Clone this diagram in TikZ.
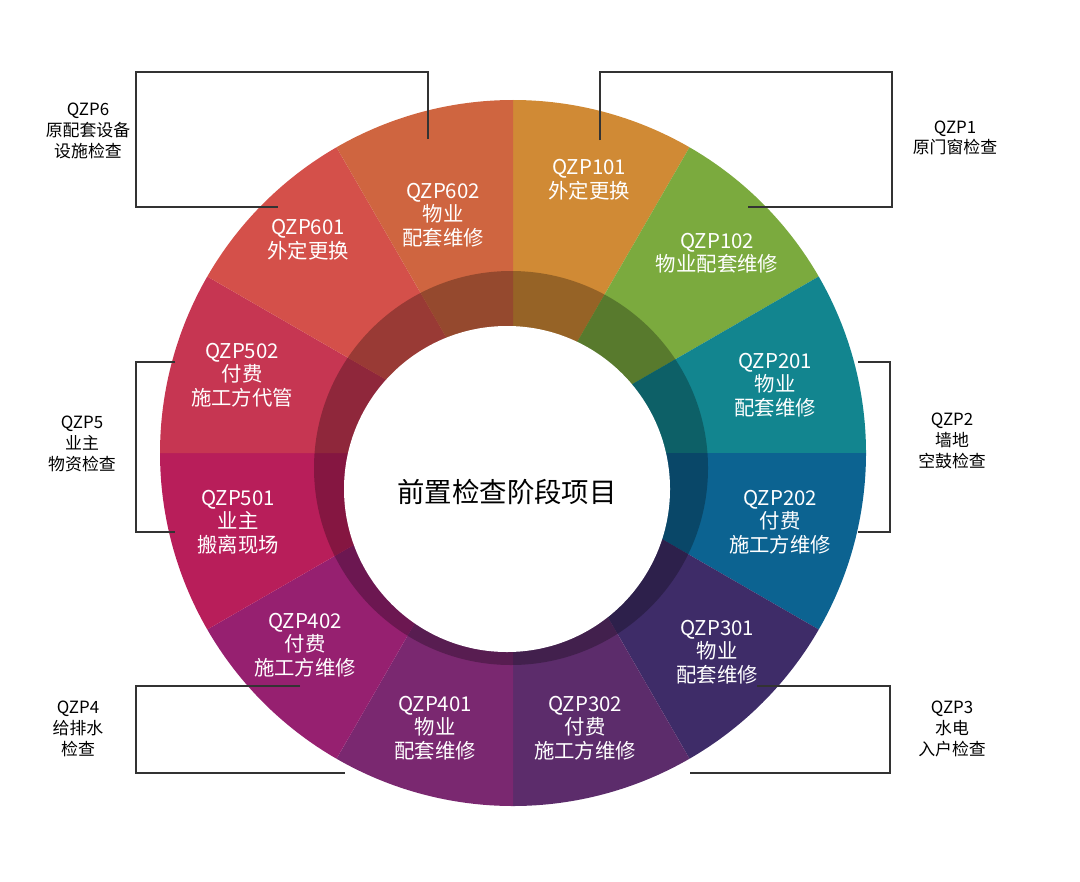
\documentclass[tikz,border=0pt]{standalone}
\usepackage{fontspec}
\setmainfont{Noto Sans CJK SC}
\begin{document}
\begin{tikzpicture}[x=0.01cm,y=0.01cm,
  seg/.style={white,font=\fontsize{5.8}{6.7}\selectfont,align=center},
  cat/.style={black,font=\fontsize{4.8}{5.9}\selectfont,align=center},
  br/.style={draw=black!80,line width=0.35pt}]
\useasboundingbox (0,0) rectangle (1080,881);
\coordinate (O) at (513,428);
\def\R{353}
\definecolor{c1}{HTML}{D08A35}\definecolor{c2}{HTML}{7BAA3E}
\definecolor{c3}{HTML}{12858F}\definecolor{c4}{HTML}{0C6391}
\definecolor{c5}{HTML}{3E2C68}\definecolor{c6}{HTML}{5C2C6B}
\definecolor{c7}{HTML}{7A2870}\definecolor{c8}{HTML}{962070}
\definecolor{c9}{HTML}{B81E5A}\definecolor{c10}{HTML}{C63652}
\definecolor{c11}{HTML}{D4504A}\definecolor{c12}{HTML}{CF6540}
\foreach \i in {1,...,12}{
  \pgfmathsetmacro{\a}{90-30*(\i-1)}
  \pgfmathsetmacro{\b}{\a-30}
  \fill[c\i] (O) -- ++(\a:\R) arc[start angle=\a,end angle=\b,radius=\R] -- cycle;
}
\begin{scope}
\clip (511,413) circle (197);
\foreach \i in {1,...,12}{
  \pgfmathsetmacro{\a}{90-30*(\i-1)}
  \pgfmathsetmacro{\b}{\a-30}
  \fill[c\i!72!black] (O) -- ++(\a:\R) arc[start angle=\a,end angle=\b,radius=\R] -- cycle;
}
\end{scope}
\fill[white] (507,392) circle (163);
\node[font=\fontsize{7.8}{9}\selectfont] (ctr) at (507,389) {前置检查阶段项目};
\node[seg] (s101) at (589,701) {QZP101\\外定更换};
\node[seg] (s102) at (717,628) {QZP102\\物业配套维修};
\node[seg] (s201) at (775,496) {QZP201\\物业\\配套维修};
\node[seg] (s202) at (780,359) {QZP202\\付费\\施工方维修};
\node[seg] (s301) at (717,229) {QZP301\\物业\\配套维修};
\node[seg] (s302) at (585,153) {QZP302\\付费\\施工方维修};
\node[seg] (s401) at (435,153) {QZP401\\物业\\配套维修};
\node[seg] (s402) at (305,236) {QZP402\\付费\\施工方维修};
\node[seg] (s501) at (238,359) {QZP501\\业主\\搬离现场};
\node[seg] (s502) at (242,506) {QZP502\\付费\\施工方代管};
\node[seg] (s601) at (308,641) {QZP601\\外定更换};
\node[seg] (s602) at (443,666) {QZP602\\物业\\配套维修};
\node[cat] (g1) at (955,743) {QZP1\\原门窗检查};
\node[cat] (g2) at (952,440) {QZP2\\墙地\\空鼓检查};
\node[cat] (g3) at (952,152) {QZP3\\水电\\入户检查};
\node[cat] (g4) at (78,152) {QZP4\\给排水\\检查};
\node[cat] (g5) at (82,437) {QZP5\\业主\\物资检查};
\node[cat] (g6) at (88,750) {QZP6\\原配套设备\\设施检查};
\coordinate (a1) at (600,741); \coordinate (a2) at (748,674);
\draw[br] (a1) |- (892,809) |- (a2);
\coordinate (b1) at (858,519); \coordinate (b2) at (858,349);
\draw[br] (b1) -| (890,434) |- (b2);
\coordinate (d1) at (757,195); \coordinate (d2) at (690,108);
\draw[br] (d1) -| (890,150) |- (d2);
\coordinate (e1) at (300,195); \coordinate (e2) at (345,108);
\draw[br] (e1) -| (136,150) |- (e2);
\coordinate (f1) at (175,519); \coordinate (f2) at (175,349);
\draw[br] (f1) -| (136,434) |- (f2);
\coordinate (h1) at (428,742); \coordinate (h2) at (278,674);
\draw[br] (h1) |- (136,809) |- (h2);
\end{tikzpicture}
\end{document}
